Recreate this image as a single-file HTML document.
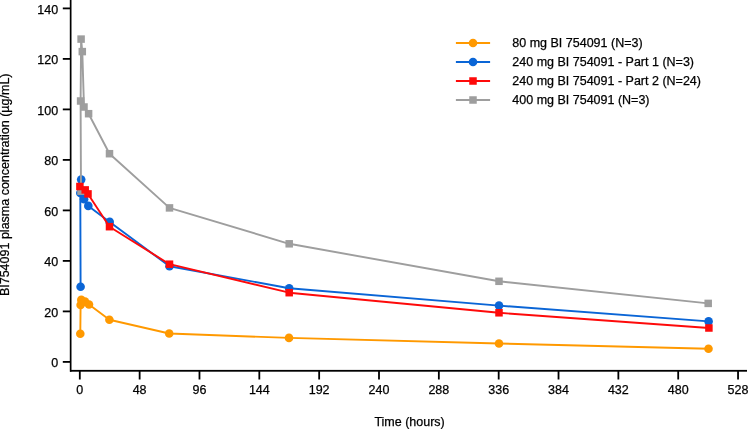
<!DOCTYPE html>
<html><head><meta charset="utf-8"><style>
html,body{margin:0;padding:0;background:#fff;width:748px;height:429px;overflow:hidden;}
text{stroke:#000;stroke-width:0.25px;} svg{display:block;will-change:transform;font-family:"Liberation Sans",sans-serif;}
</style></head><body>
<svg width="748" height="429" viewBox="0 0 748 429" font-family="Liberation Sans, sans-serif" font-size="12.5" fill="#000"><rect x="69.8" y="0" width="1.7" height="371.7" fill="#000"/>
<rect x="70" y="369.9" width="677" height="1.8" fill="#000"/>
<rect x="62.8" y="361.00" width="8" height="1.8" fill="#000"/>
<text x="58.2" y="367.30" text-anchor="end">0</text>
<rect x="62.8" y="310.50" width="8" height="1.8" fill="#000"/>
<text x="58.2" y="316.80" text-anchor="end">20</text>
<rect x="62.8" y="260.00" width="8" height="1.8" fill="#000"/>
<text x="58.2" y="266.30" text-anchor="end">40</text>
<rect x="62.8" y="209.50" width="8" height="1.8" fill="#000"/>
<text x="58.2" y="215.80" text-anchor="end">60</text>
<rect x="62.8" y="159.00" width="8" height="1.8" fill="#000"/>
<text x="58.2" y="165.30" text-anchor="end">80</text>
<rect x="62.8" y="108.50" width="8" height="1.8" fill="#000"/>
<text x="58.2" y="114.80" text-anchor="end">100</text>
<rect x="62.8" y="58.00" width="8" height="1.8" fill="#000"/>
<text x="58.2" y="64.30" text-anchor="end">120</text>
<rect x="62.8" y="7.50" width="8" height="1.8" fill="#000"/>
<text x="58.2" y="13.80" text-anchor="end">140</text>
<rect x="78.90" y="370" width="1.8" height="9.5" fill="#000"/>
<text x="79.80" y="394" text-anchor="middle">0</text>
<rect x="138.74" y="370" width="1.8" height="9.5" fill="#000"/>
<text x="139.64" y="394" text-anchor="middle">48</text>
<rect x="198.58" y="370" width="1.8" height="9.5" fill="#000"/>
<text x="199.48" y="394" text-anchor="middle">96</text>
<rect x="258.42" y="370" width="1.8" height="9.5" fill="#000"/>
<text x="259.32" y="394" text-anchor="middle">144</text>
<rect x="318.26" y="370" width="1.8" height="9.5" fill="#000"/>
<text x="319.16" y="394" text-anchor="middle">192</text>
<rect x="378.10" y="370" width="1.8" height="9.5" fill="#000"/>
<text x="379.00" y="394" text-anchor="middle">240</text>
<rect x="437.94" y="370" width="1.8" height="9.5" fill="#000"/>
<text x="438.84" y="394" text-anchor="middle">288</text>
<rect x="497.78" y="370" width="1.8" height="9.5" fill="#000"/>
<text x="498.68" y="394" text-anchor="middle">336</text>
<rect x="557.62" y="370" width="1.8" height="9.5" fill="#000"/>
<text x="558.52" y="394" text-anchor="middle">384</text>
<rect x="617.46" y="370" width="1.8" height="9.5" fill="#000"/>
<text x="618.36" y="394" text-anchor="middle">432</text>
<rect x="677.30" y="370" width="1.8" height="9.5" fill="#000"/>
<text x="678.20" y="394" text-anchor="middle">480</text>
<rect x="737.14" y="370" width="1.8" height="9.5" fill="#000"/>
<text x="738.04" y="394" text-anchor="middle">528</text>
<text x="409.6" y="425.8" text-anchor="middle">Time (hours)</text>
<text transform="translate(8.6,184.8) rotate(-90)" text-anchor="middle">BI754091 plasma concentration (µg/mL)</text>
<polyline points="80.30,333.80 80.60,305.00 81.30,299.90 82.50,302.00 85.00,301.50 89.00,304.50 109.40,319.70 169.20,333.50 289.00,337.90 499.00,343.50 708.50,348.70" fill="none" stroke="#FF9900" stroke-width="1.9" stroke-linejoin="round"/><circle cx="80.30" cy="333.80" r="4.3" fill="#FF9900"/><circle cx="80.60" cy="305.00" r="4.3" fill="#FF9900"/><circle cx="81.30" cy="299.90" r="4.3" fill="#FF9900"/><circle cx="82.50" cy="302.00" r="4.3" fill="#FF9900"/><circle cx="85.00" cy="301.50" r="4.3" fill="#FF9900"/><circle cx="89.00" cy="304.50" r="4.3" fill="#FF9900"/><circle cx="109.40" cy="319.70" r="4.3" fill="#FF9900"/><circle cx="169.20" cy="333.50" r="4.3" fill="#FF9900"/><circle cx="289.00" cy="337.90" r="4.3" fill="#FF9900"/><circle cx="499.00" cy="343.50" r="4.3" fill="#FF9900"/><circle cx="708.50" cy="348.70" r="4.3" fill="#FF9900"/>
<polyline points="80.60,286.80 80.30,193.00 81.20,179.60 84.10,199.20 88.30,205.90 109.70,221.90 169.50,266.30 289.20,288.20 499.00,305.60 708.60,321.40" fill="none" stroke="#0A65D6" stroke-width="1.9" stroke-linejoin="round"/><circle cx="80.60" cy="286.80" r="4.3" fill="#0A65D6"/><circle cx="80.30" cy="193.00" r="4.3" fill="#0A65D6"/><circle cx="81.20" cy="179.60" r="4.3" fill="#0A65D6"/><circle cx="84.10" cy="199.20" r="4.3" fill="#0A65D6"/><circle cx="88.30" cy="205.90" r="4.3" fill="#0A65D6"/><circle cx="109.70" cy="221.90" r="4.3" fill="#0A65D6"/><circle cx="169.50" cy="266.30" r="4.3" fill="#0A65D6"/><circle cx="289.20" cy="288.20" r="4.3" fill="#0A65D6"/><circle cx="499.00" cy="305.60" r="4.3" fill="#0A65D6"/><circle cx="708.60" cy="321.40" r="4.3" fill="#0A65D6"/>
<polyline points="81.00,191.20 80.60,101.00 81.10,39.10 82.30,51.60 84.00,107.00 88.60,113.70 109.50,153.70 169.50,207.90 289.20,243.80 499.00,281.30 708.20,303.40" fill="none" stroke="#9E9E9E" stroke-width="1.9" stroke-linejoin="round"/><rect x="77.25" y="187.45" width="7.5" height="7.5" fill="#9E9E9E"/><rect x="76.85" y="97.25" width="7.5" height="7.5" fill="#9E9E9E"/><rect x="77.35" y="35.35" width="7.5" height="7.5" fill="#9E9E9E"/><rect x="78.55" y="47.85" width="7.5" height="7.5" fill="#9E9E9E"/><rect x="80.25" y="103.25" width="7.5" height="7.5" fill="#9E9E9E"/><rect x="84.85" y="109.95" width="7.5" height="7.5" fill="#9E9E9E"/><rect x="105.75" y="149.95" width="7.5" height="7.5" fill="#9E9E9E"/><rect x="165.75" y="204.15" width="7.5" height="7.5" fill="#9E9E9E"/><rect x="285.45" y="240.05" width="7.5" height="7.5" fill="#9E9E9E"/><rect x="495.25" y="277.55" width="7.5" height="7.5" fill="#9E9E9E"/><rect x="704.45" y="299.65" width="7.5" height="7.5" fill="#9E9E9E"/>
<polyline points="79.90,186.50 85.20,189.90 88.00,193.90 109.50,226.70 169.50,264.20 289.20,292.70 499.00,312.80 708.90,328.00" fill="none" stroke="#FE0A0A" stroke-width="1.9" stroke-linejoin="round"/><rect x="76.15" y="182.75" width="7.5" height="7.5" fill="#FE0A0A"/><rect x="81.45" y="186.15" width="7.5" height="7.5" fill="#FE0A0A"/><rect x="84.25" y="190.15" width="7.5" height="7.5" fill="#FE0A0A"/><rect x="105.75" y="222.95" width="7.5" height="7.5" fill="#FE0A0A"/><rect x="165.75" y="260.45" width="7.5" height="7.5" fill="#FE0A0A"/><rect x="285.45" y="288.95" width="7.5" height="7.5" fill="#FE0A0A"/><rect x="495.25" y="309.05" width="7.5" height="7.5" fill="#FE0A0A"/><rect x="705.15" y="324.25" width="7.5" height="7.5" fill="#FE0A0A"/>
<line x1="455.9" y1="43" x2="490.1" y2="43" stroke="#FF9900" stroke-width="1.9"/>
<circle cx="473" cy="43" r="4.3" fill="#FF9900"/>
<text x="512.3" y="46.9">80 mg BI 754091 (N=3)</text>
<line x1="455.9" y1="62" x2="490.1" y2="62" stroke="#0A65D6" stroke-width="1.9"/>
<circle cx="473" cy="62" r="4.3" fill="#0A65D6"/>
<text x="512.3" y="65.9">240 mg BI 754091 - Part 1 (N=3)</text>
<line x1="455.9" y1="81" x2="490.1" y2="81" stroke="#FE0A0A" stroke-width="1.9"/>
<rect x="469.25" y="77.25" width="7.5" height="7.5" fill="#FE0A0A"/>
<text x="512.3" y="84.9">240 mg BI 754091 - Part 2 (N=24)</text>
<line x1="455.9" y1="100" x2="490.1" y2="100" stroke="#9E9E9E" stroke-width="1.9"/>
<rect x="469.25" y="96.25" width="7.5" height="7.5" fill="#9E9E9E"/>
<text x="512.3" y="103.9">400 mg BI 754091 (N=3)</text></svg>
</body></html>
